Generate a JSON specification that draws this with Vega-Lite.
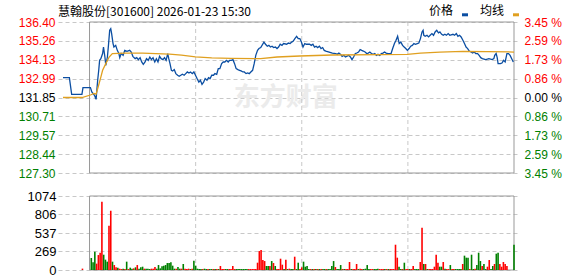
{
"$schema": "https://vega.github.io/schema/vega-lite/v6.json",
"width": 461, "height": 248,
"autosize": "none",
"padding": {"left": 58, "top": 22, "right": 59, "bottom": 6},
"background": "white",
"config": {"view": {"stroke": null}, "axis": {"domain": false, "ticks": false, "labelFont": "Liberation Sans", "labelFontSize": 12, "gridColor": "#c8c8c8", "gridDash": [4, 3], "gridWidth": 1}},
"title": {"text": "慧翰股份[301600] 2026-01-23 15:30", "anchor": "start", "frame": "group", "font": "Noto Sans CJK SC", "fontSize": 12, "fontWeight": "normal", "color": "#000000", "offset": 5, "dy": 19},
"layer": [
{
 "data": {"values": [{"t": 111, "p": 131.85, "w": "东方财富"}]},
 "mark": {"type": "text", "font": "Noto Sans CJK SC", "fontSize": 26, "fontWeight": "bold", "color": "#ebebeb", "align": "center", "baseline": "middle"},
 "encoding": {
  "x": {"field": "t", "type": "quantitative", "scale": {"domain": [-15, 240]}, "axis": null},
  "y": {"field": "p", "type": "quantitative", "scale": {"domain": [127.3, 136.4], "range": [151, 0]}, "axis": null},
  "text": {"field": "w"}
 }
},
{
 "data": {"values": [{"t": 60}, {"t": 120}, {"t": 180}]},
 "mark": {"type": "rule", "color": "#c8c8c8", "strokeDash": [4, 3], "strokeWidth": 1},
 "encoding": {
  "x": {"field": "t", "type": "quantitative", "scale": {"domain": [-15, 240]}, "axis": null},
  "y": {"datum": 127.3, "type": "quantitative", "scale": {"domain": [127.3, 136.4], "range": [151, 0]}, "axis": null},
  "y2": {"datum": 136.4}
 }
},
{
 "data": {"values": [{"t": 60}, {"t": 120}, {"t": 180}]},
 "mark": {"type": "rule", "color": "#c8c8c8", "strokeDash": [4, 3], "strokeWidth": 1},
 "encoding": {
  "x": {"field": "t", "type": "quantitative", "scale": {"domain": [-15, 240]}, "axis": null},
  "y": {"datum": 0, "type": "quantitative", "scale": {"domain": [0, 1074], "range": [248, 174]}, "axis": null},
  "y2": {"datum": 1074}
 }
},
{
 "data": {"values": [{"a": 0, "b": 240, "lo": 127.3, "hi": 136.4}]},
 "mark": {"type": "rect", "fill": null, "stroke": "#999999", "strokeWidth": 1},
 "encoding": {
  "x": {"field": "a", "type": "quantitative", "scale": {"domain": [-15, 240]}, "axis": null},
  "x2": {"field": "b"},
  "y": {"field": "lo", "type": "quantitative", "scale": {"domain": [127.3, 136.4], "range": [151, 0]},
   "axis": {"orient": "right", "title": null, "grid": false, "values": [127.3, 128.44, 129.57, 130.71, 131.85, 132.99, 134.13, 135.26, 136.4], "labelExpr": "format(abs(datum.value - 131.85) / 131.85 * 100, '.2f') + ' %'", "labelPadding": 5, "labelFontSize": 12,
    "labelColor": {"condition": [{"test": "datum.value > 131.9", "value": "#ff0000"}, {"test": "datum.value < 131.8", "value": "#008000"}], "value": "#000000"}}},
  "y2": {"field": "hi"}
 }
},
{
 "data": {"values": [{"a": 0, "b": 240, "lo": 0, "hi": 1074}]},
 "mark": {"type": "rect", "fill": null, "stroke": "#999999", "strokeWidth": 1},
 "encoding": {
  "x": {"field": "a", "type": "quantitative", "scale": {"domain": [-15, 240]}, "axis": null},
  "x2": {"field": "b"},
  "y": {"field": "lo", "type": "quantitative", "scale": {"domain": [0, 1074], "range": [248, 174]},
   "axis": {"orient": "left", "title": null, "grid": true, "values": [0, 269, 537, 806, 1074], "format": "d", "labelPadding": 2, "labelFontSize": 13, "labelColor": "#000000"}},
  "y2": {"field": "hi"}
 }
},
{
 "data": {"values": [
{"t":-4,"v":20,"c":"u"},{"t":1,"v":174,"c":"d"},{"t":2,"v":111,"c":"d"},{"t":3,"v":266,"c":"d"},{"t":4,"v":92,"c":"u"},{"t":5,"v":217,"c":"u"},{"t":6,"v":251,"c":"u"},{"t":7,"v":990,"c":"u"},{"t":8,"v":222,"c":"d"},{"t":9,"v":150,"c":"d"},{"t":10,"v":121,"c":"d"},{"t":11,"v":642,"c":"u"},{"t":12,"v":860,"c":"u"},{"t":13,"v":121,"c":"d"},{"t":14,"v":72,"c":"u"},{"t":15,"v":39,"c":"u"},{"t":16,"v":34,"c":"d"},{"t":17,"v":19,"c":"u"},{"t":18,"v":14,"c":"u"},{"t":19,"v":19,"c":"d"},{"t":20,"v":14,"c":"u"},{"t":21,"v":121,"c":"d"},{"t":22,"v":14,"c":"u"},{"t":23,"v":34,"c":"d"},{"t":24,"v":19,"c":"d"},{"t":25,"v":24,"c":"u"},{"t":26,"v":39,"c":"d"},{"t":27,"v":72,"c":"u"},{"t":28,"v":19,"c":"d"},{"t":29,"v":39,"c":"d"},{"t":30,"v":48,"c":"d"},{"t":31,"v":19,"c":"u"},{"t":32,"v":19,"c":"d"},{"t":33,"v":19,"c":"d"},{"t":34,"v":14,"c":"d"},{"t":35,"v":19,"c":"u"},{"t":36,"v":19,"c":"u"},{"t":37,"v":43,"c":"u"},{"t":38,"v":19,"c":"d"},{"t":39,"v":72,"c":"d"},{"t":40,"v":24,"c":"d"},{"t":41,"v":53,"c":"d"},{"t":42,"v":63,"c":"d"},{"t":43,"v":72,"c":"d"},{"t":44,"v":101,"c":"d"},{"t":45,"v":101,"c":"d"},{"t":46,"v":111,"c":"d"},{"t":47,"v":63,"c":"d"},{"t":48,"v":19,"c":"d"},{"t":49,"v":19,"c":"u"},{"t":50,"v":43,"c":"d"},{"t":51,"v":19,"c":"d"},{"t":52,"v":19,"c":"u"},{"t":53,"v":87,"c":"d"},{"t":54,"v":19,"c":"u"},{"t":55,"v":14,"c":"u"},{"t":56,"v":19,"c":"u"},{"t":57,"v":14,"c":"d"},{"t":58,"v":19,"c":"u"},{"t":59,"v":135,"c":"d"},{"t":60,"v":63,"c":"d"},
{"t":61,"v":19,"c":"d"},{"t":62,"v":14,"c":"d"},{"t":63,"v":14,"c":"d"},{"t":64,"v":14,"c":"u"},{"t":65,"v":19,"c":"d"},{"t":66,"v":14,"c":"d"},{"t":67,"v":14,"c":"u"},{"t":68,"v":14,"c":"d"},{"t":69,"v":14,"c":"d"},{"t":70,"v":14,"c":"u"},{"t":71,"v":14,"c":"d"},{"t":72,"v":14,"c":"u"},{"t":73,"v":14,"c":"d"},{"t":74,"v":58,"c":"u"},{"t":75,"v":14,"c":"u"},{"t":76,"v":14,"c":"u"},{"t":77,"v":14,"c":"d"},{"t":78,"v":14,"c":"d"},{"t":79,"v":14,"c":"u"},{"t":80,"v":14,"c":"u"},{"t":81,"v":58,"c":"u"},{"t":82,"v":14,"c":"u"},{"t":83,"v":14,"c":"d"},{"t":84,"v":14,"c":"d"},{"t":85,"v":14,"c":"d"},{"t":86,"v":14,"c":"d"},{"t":87,"v":14,"c":"d"},{"t":88,"v":14,"c":"d"},{"t":89,"v":14,"c":"d"},{"t":90,"v":14,"c":"u"},{"t":91,"v":14,"c":"u"},{"t":92,"v":14,"c":"u"},{"t":93,"v":14,"c":"u"},{"t":94,"v":14,"c":"u"},{"t":95,"v":106,"c":"u"},{"t":96,"v":275,"c":"u"},{"t":97,"v":290,"c":"u"},{"t":98,"v":145,"c":"u"},{"t":99,"v":130,"c":"u"},{"t":100,"v":58,"c":"d"},{"t":101,"v":58,"c":"d"},{"t":102,"v":58,"c":"u"},{"t":103,"v":130,"c":"d"},{"t":104,"v":101,"c":"u"},{"t":105,"v":58,"c":"d"},{"t":106,"v":14,"c":"u"},{"t":107,"v":14,"c":"u"},{"t":108,"v":164,"c":"u"},{"t":109,"v":77,"c":"u"},{"t":110,"v":14,"c":"d"},{"t":111,"v":150,"c":"u"},{"t":112,"v":14,"c":"d"},{"t":113,"v":19,"c":"u"},{"t":114,"v":14,"c":"d"},{"t":115,"v":14,"c":"d"},{"t":116,"v":193,"c":"u"},{"t":117,"v":14,"c":"d"},{"t":118,"v":106,"c":"d"},{"t":119,"v":14,"c":"u"},{"t":120,"v":39,"c":"u"},
{"t":121,"v":121,"c":"d"},{"t":122,"v":48,"c":"d"},{"t":123,"v":58,"c":"d"},{"t":124,"v":14,"c":"d"},{"t":125,"v":14,"c":"u"},{"t":126,"v":14,"c":"d"},{"t":127,"v":14,"c":"u"},{"t":128,"v":14,"c":"d"},{"t":129,"v":14,"c":"u"},{"t":130,"v":14,"c":"d"},{"t":131,"v":14,"c":"u"},{"t":132,"v":14,"c":"d"},{"t":133,"v":14,"c":"d"},{"t":134,"v":14,"c":"u"},{"t":135,"v":14,"c":"d"},{"t":136,"v":14,"c":"d"},{"t":137,"v":58,"c":"d"},{"t":138,"v":130,"c":"d"},{"t":139,"v":43,"c":"u"},{"t":140,"v":14,"c":"d"},{"t":141,"v":14,"c":"d"},{"t":142,"v":72,"c":"d"},{"t":143,"v":14,"c":"u"},{"t":144,"v":14,"c":"d"},{"t":145,"v":14,"c":"u"},{"t":146,"v":14,"c":"u"},{"t":147,"v":116,"c":"u"},{"t":148,"v":14,"c":"d"},{"t":149,"v":14,"c":"u"},{"t":150,"v":14,"c":"u"},{"t":151,"v":87,"c":"u"},{"t":152,"v":14,"c":"d"},{"t":153,"v":19,"c":"u"},{"t":154,"v":14,"c":"u"},{"t":155,"v":14,"c":"d"},{"t":156,"v":19,"c":"d"},{"t":157,"v":72,"c":"d"},{"t":158,"v":14,"c":"d"},{"t":159,"v":14,"c":"u"},{"t":160,"v":14,"c":"u"},{"t":161,"v":14,"c":"d"},{"t":162,"v":14,"c":"d"},{"t":163,"v":19,"c":"d"},{"t":164,"v":14,"c":"u"},{"t":165,"v":14,"c":"u"},{"t":166,"v":14,"c":"u"},{"t":167,"v":14,"c":"d"},{"t":168,"v":14,"c":"u"},{"t":169,"v":14,"c":"d"},{"t":170,"v":14,"c":"u"},{"t":171,"v":14,"c":"u"},{"t":172,"v":14,"c":"u"},{"t":173,"v":367,"c":"u"},{"t":174,"v":179,"c":"u"},{"t":175,"v":48,"c":"d"},{"t":176,"v":14,"c":"d"},{"t":177,"v":14,"c":"u"},{"t":178,"v":106,"c":"d"},{"t":179,"v":14,"c":"u"},{"t":180,"v":14,"c":"u"},
{"t":181,"v":14,"c":"d"},{"t":182,"v":14,"c":"u"},{"t":183,"v":58,"c":"u"},{"t":184,"v":14,"c":"d"},{"t":185,"v":14,"c":"d"},{"t":186,"v":14,"c":"d"},{"t":187,"v":116,"c":"u"},{"t":188,"v":613,"c":"u"},{"t":189,"v":87,"c":"d"},{"t":190,"v":87,"c":"u"},{"t":191,"v":14,"c":"d"},{"t":192,"v":14,"c":"u"},{"t":193,"v":14,"c":"u"},{"t":194,"v":14,"c":"u"},{"t":195,"v":48,"c":"u"},{"t":196,"v":222,"c":"u"},{"t":197,"v":106,"c":"u"},{"t":198,"v":48,"c":"d"},{"t":199,"v":48,"c":"d"},{"t":200,"v":116,"c":"u"},{"t":201,"v":19,"c":"d"},{"t":202,"v":14,"c":"u"},{"t":203,"v":14,"c":"u"},{"t":204,"v":72,"c":"d"},{"t":205,"v":14,"c":"u"},{"t":206,"v":14,"c":"u"},{"t":207,"v":14,"c":"d"},{"t":208,"v":14,"c":"d"},{"t":209,"v":14,"c":"d"},{"t":210,"v":14,"c":"d"},{"t":211,"v":87,"c":"u"},{"t":212,"v":208,"c":"d"},{"t":213,"v":179,"c":"d"},{"t":214,"v":179,"c":"d"},{"t":215,"v":14,"c":"u"},{"t":216,"v":222,"c":"d"},{"t":217,"v":14,"c":"d"},{"t":218,"v":19,"c":"u"},{"t":219,"v":72,"c":"d"},{"t":220,"v":251,"c":"d"},{"t":221,"v":130,"c":"d"},{"t":222,"v":58,"c":"u"},{"t":223,"v":87,"c":"d"},{"t":224,"v":14,"c":"d"},{"t":225,"v":48,"c":"u"},{"t":226,"v":145,"c":"u"},{"t":227,"v":14,"c":"d"},{"t":228,"v":58,"c":"d"},{"t":229,"v":87,"c":"u"},{"t":230,"v":237,"c":"d"},{"t":231,"v":251,"c":"d"},{"t":232,"v":87,"c":"u"},{"t":233,"v":48,"c":"u"},{"t":234,"v":116,"c":"u"},{"t":235,"v":87,"c":"u"},{"t":236,"v":58,"c":"u"},{"t":240,"v":367,"c":"d"}
 ]},
 "mark": {"type": "bar", "orient": "vertical", "width": 1.6},
 "encoding": {
  "x": {"field": "t", "type": "quantitative", "scale": {"domain": [-15, 240]}, "axis": null},
  "y": {"field": "v", "type": "quantitative", "scale": {"domain": [0, 1074], "range": [248, 174]}, "axis": null},
  "color": {"field": "c", "type": "nominal", "scale": {"domain": ["u", "d"], "range": ["#ff0000", "#008000"]}, "legend": null}
 }
},
{
 "data": {"values": [
{"t":-15,"p":133.05,"s":"价格"},{"t":-11.4,"p":133.05,"s":"价格"},{"t":-10.1,"p":132.04,"s":"价格"},{"t":-4.3,"p":132.04,"s":"价格"},{"t":-3.7,"p":132.45,"s":"价格"},{"t":0.5,"p":132.45,"s":"价格"},{"t":1.3,"p":132.18,"s":"价格"},{"t":2.8,"p":131.98,"s":"价格"},{"t":3.7,"p":131.74,"s":"价格"},{"t":4.6,"p":132.89,"s":"价格"},{"t":5.2,"p":133.49,"s":"价格"},{"t":5.7,"p":134.09,"s":"价格"},{"t":6.4,"p":134.19,"s":"价格"},{"t":7.4,"p":134.5,"s":"价格"},{"t":7.9,"p":134.89,"s":"价格"},{"t":8.7,"p":134.29,"s":"价格"},{"t":9.2,"p":133.79,"s":"价格"},{"t":10.1,"p":134.29,"s":"价格"},{"t":10.7,"p":134.99,"s":"价格"},{"t":11.4,"p":135.9,"s":"价格"},{"t":12.0,"p":136.0,"s":"价格"},{"t":12.5,"p":135.7,"s":"价格"},{"t":13.3,"p":135.1,"s":"价格"},{"t":13.8,"p":134.89,"s":"价格"},{"t":14.8,"p":134.99,"s":"价格"},{"t":15.7,"p":134.69,"s":"价格"},{"t":16.6,"p":134.5,"s":"价格"},{"t":17.1,"p":134.25,"s":"价格"},{"t":17.9,"p":134.5,"s":"价格"},{"t":19.0,"p":134.39,"s":"价格"},{"t":19.9,"p":134.69,"s":"价格"},{"t":21.2,"p":134.63,"s":"价格"},{"t":22.7,"p":134.69,"s":"价格"},{"t":23.6,"p":134.59,"s":"价格"},{"t":24.5,"p":134.33,"s":"价格"},{"t":25.8,"p":134.19,"s":"价格"},{"t":26.7,"p":134.25,"s":"价格"},{"t":27.6,"p":134.13,"s":"价格"},{"t":28.6,"p":134.25,"s":"价格"},{"t":29.5,"p":133.99,"s":"价格"},{"t":30.4,"p":133.85,"s":"价格"},{"t":31.4,"p":133.99,"s":"价格"},{"t":32.2,"p":134.19,"s":"价格"},{"t":33.2,"p":134.09,"s":"价格"},{"t":34.1,"p":134.29,"s":"价格"},{"t":35.0,"p":134.13,"s":"价格"},{"t":35.9,"p":134.25,"s":"价格"},{"t":36.9,"p":133.99,"s":"价格"},{"t":37.8,"p":134.19,"s":"价格"},{"t":38.7,"p":133.99,"s":"价格"},{"t":39.6,"p":134.33,"s":"价格"},{"t":40.5,"p":134.19,"s":"价格"},{"t":41.5,"p":134.13,"s":"价格"},{"t":42.4,"p":134.25,"s":"价格"},{"t":43.3,"p":134.09,"s":"价格"},{"t":44.2,"p":134.5,"s":"价格"},{"t":44.8,"p":134.19,"s":"价格"},{"t":45.5,"p":133.89,"s":"价格"},{"t":46.3,"p":133.49,"s":"价格"},{"t":47.0,"p":133.45,"s":"价格"},{"t":47.9,"p":133.53,"s":"价格"},{"t":48.8,"p":133.29,"s":"价格"},{"t":49.8,"p":133.19,"s":"价格"},{"t":50.7,"p":133.13,"s":"价格"},{"t":51.6,"p":133.19,"s":"价格"},{"t":52.5,"p":133.25,"s":"价格"},{"t":53.5,"p":133.19,"s":"价格"},{"t":54.4,"p":133.29,"s":"价格"},{"t":55.3,"p":133.39,"s":"价格"},{"t":56.2,"p":133.33,"s":"价格"},{"t":57.1,"p":133.39,"s":"价格"},{"t":58.1,"p":133.29,"s":"价格"},{"t":59.0,"p":133.39,"s":"价格"},{"t":59.9,"p":133.19,"s":"价格"},{"t":60.8,"p":132.99,"s":"价格"},{"t":61.8,"p":132.78,"s":"价格"},{"t":62.7,"p":132.89,"s":"价格"},{"t":63.6,"p":132.64,"s":"价格"},{"t":64.5,"p":132.78,"s":"价格"},{"t":65.4,"p":132.99,"s":"价格"},{"t":66.4,"p":132.89,"s":"价格"},{"t":67.3,"p":133.05,"s":"价格"},{"t":68.2,"p":132.99,"s":"价格"},{"t":69.1,"p":133.19,"s":"价格"},{"t":70.1,"p":133.19,"s":"价格"},{"t":70.9,"p":133.29,"s":"价格"},{"t":71.9,"p":133.25,"s":"价格"},{"t":72.8,"p":133.59,"s":"价格"},{"t":73.7,"p":133.59,"s":"价格"},{"t":74.7,"p":133.89,"s":"价格"},{"t":75.6,"p":133.99,"s":"价格"},{"t":76.5,"p":133.99,"s":"价格"},{"t":77.4,"p":134.09,"s":"价格"},{"t":78.4,"p":133.99,"s":"价格"},{"t":79.2,"p":134.09,"s":"价格"},{"t":80.2,"p":134.09,"s":"价格"},{"t":81.1,"p":134.13,"s":"价格"},{"t":82.0,"p":133.89,"s":"价格"},{"t":82.9,"p":133.59,"s":"价格"},{"t":83.9,"p":133.53,"s":"价格"},{"t":84.8,"p":133.49,"s":"价格"},{"t":85.7,"p":133.45,"s":"价格"},{"t":86.7,"p":133.39,"s":"价格"},{"t":87.5,"p":133.39,"s":"价格"},{"t":88.5,"p":133.29,"s":"价格"},{"t":89.4,"p":133.33,"s":"价格"},{"t":90.3,"p":133.29,"s":"价格"},{"t":91.2,"p":133.39,"s":"价格"},{"t":92.2,"p":133.49,"s":"价格"},{"t":93.1,"p":133.89,"s":"价格"},{"t":94.0,"p":134.39,"s":"价格"},{"t":95.0,"p":134.69,"s":"价格"},{"t":95.8,"p":134.8,"s":"价格"},{"t":96.8,"p":134.86,"s":"价格"},{"t":98.6,"p":135.19,"s":"价格"},{"t":99.5,"p":135.06,"s":"价格"},{"t":100.5,"p":134.94,"s":"价格"},{"t":101.4,"p":134.99,"s":"价格"},{"t":102.3,"p":134.89,"s":"价格"},{"t":103.2,"p":134.94,"s":"价格"},{"t":104.1,"p":134.86,"s":"价格"},{"t":105.1,"p":134.89,"s":"价格"},{"t":106.0,"p":134.8,"s":"价格"},{"t":106.9,"p":134.89,"s":"价格"},{"t":107.8,"p":135.06,"s":"价格"},{"t":108.8,"p":134.99,"s":"价格"},{"t":109.7,"p":135.1,"s":"价格"},{"t":111.5,"p":135.06,"s":"价格"},{"t":112.4,"p":135.13,"s":"价格"},{"t":113.4,"p":135.1,"s":"价格"},{"t":114.3,"p":135.19,"s":"价格"},{"t":115.2,"p":135.25,"s":"价格"},{"t":116.1,"p":135.4,"s":"价格"},{"t":117.1,"p":135.54,"s":"价格"},{"t":118.0,"p":135.4,"s":"价格"},{"t":118.9,"p":135.4,"s":"价格"},{"t":119.8,"p":135.19,"s":"价格"},{"t":120.7,"p":134.89,"s":"价格"},{"t":121.7,"p":135.1,"s":"价格"},{"t":122.6,"p":135.06,"s":"价格"},{"t":124.4,"p":135.06,"s":"价格"},{"t":125.4,"p":134.99,"s":"价格"},{"t":126.3,"p":135.06,"s":"价格"},{"t":127.2,"p":134.89,"s":"价格"},{"t":128.1,"p":134.94,"s":"价格"},{"t":129.0,"p":134.86,"s":"价格"},{"t":130.0,"p":134.94,"s":"价格"},{"t":130.9,"p":134.8,"s":"价格"},{"t":131.8,"p":134.86,"s":"价格"},{"t":132.7,"p":134.69,"s":"价格"},{"t":133.6,"p":134.65,"s":"价格"},{"t":135.5,"p":134.59,"s":"价格"},{"t":137.3,"p":134.53,"s":"价格"},{"t":139.2,"p":134.5,"s":"价格"},{"t":140.1,"p":134.45,"s":"价格"},{"t":141.0,"p":134.53,"s":"价格"},{"t":142.0,"p":134.45,"s":"价格"},{"t":142.8,"p":134.33,"s":"价格"},{"t":143.8,"p":134.39,"s":"价格"},{"t":144.7,"p":134.29,"s":"价格"},{"t":146.5,"p":134.39,"s":"价格"},{"t":147.5,"p":134.29,"s":"价格"},{"t":148.4,"p":134.13,"s":"价格"},{"t":149.3,"p":134.29,"s":"价格"},{"t":150.3,"p":134.5,"s":"价格"},{"t":151.1,"p":134.53,"s":"价格"},{"t":152.1,"p":134.59,"s":"价格"},{"t":153.0,"p":134.74,"s":"价格"},{"t":153.9,"p":134.69,"s":"价格"},{"t":154.8,"p":134.65,"s":"价格"},{"t":155.8,"p":134.59,"s":"价格"},{"t":156.7,"p":134.5,"s":"价格"},{"t":157.6,"p":134.53,"s":"价格"},{"t":158.5,"p":134.59,"s":"价格"},{"t":159.4,"p":134.5,"s":"价格"},{"t":160.4,"p":134.45,"s":"价格"},{"t":161.3,"p":134.5,"s":"价格"},{"t":162.2,"p":134.39,"s":"价格"},{"t":163.1,"p":134.45,"s":"价格"},{"t":164.1,"p":134.39,"s":"价格"},{"t":165.0,"p":134.5,"s":"价格"},{"t":165.9,"p":134.53,"s":"价格"},{"t":166.8,"p":134.59,"s":"价格"},{"t":167.7,"p":134.53,"s":"价格"},{"t":168.7,"p":134.5,"s":"价格"},{"t":170.5,"p":134.5,"s":"价格"},{"t":171.4,"p":134.8,"s":"价格"},{"t":172.4,"p":135.1,"s":"价格"},{"t":173.3,"p":135.3,"s":"价格"},{"t":174.2,"p":135.54,"s":"价格"},{"t":175.1,"p":135.1,"s":"价格"},{"t":176.0,"p":135.19,"s":"价格"},{"t":177.0,"p":134.99,"s":"价格"},{"t":177.9,"p":134.89,"s":"价格"},{"t":178.8,"p":134.8,"s":"价格"},{"t":179.7,"p":134.69,"s":"价格"},{"t":180.7,"p":134.8,"s":"价格"},{"t":181.6,"p":134.94,"s":"价格"},{"t":182.5,"p":134.99,"s":"价格"},{"t":183.4,"p":135.1,"s":"价格"},{"t":184.3,"p":135.06,"s":"价格"},{"t":185.3,"p":135.1,"s":"价格"},{"t":186.2,"p":135.13,"s":"价格"},{"t":187.1,"p":135.4,"s":"价格"},{"t":188.0,"p":135.8,"s":"价格"},{"t":188.6,"p":135.9,"s":"价格"},{"t":189.0,"p":135.6,"s":"价格"},{"t":189.8,"p":135.54,"s":"价格"},{"t":190.8,"p":135.6,"s":"价格"},{"t":191.7,"p":135.5,"s":"价格"},{"t":192.6,"p":135.6,"s":"价格"},{"t":193.6,"p":135.7,"s":"价格"},{"t":194.5,"p":135.6,"s":"价格"},{"t":195.4,"p":135.8,"s":"价格"},{"t":196.3,"p":135.9,"s":"价格"},{"t":197.3,"p":135.74,"s":"价格"},{"t":198.1,"p":135.8,"s":"价格"},{"t":199.1,"p":135.66,"s":"价格"},{"t":200.0,"p":135.6,"s":"价格"},{"t":200.9,"p":135.66,"s":"价格"},{"t":201.8,"p":135.6,"s":"价格"},{"t":202.8,"p":135.7,"s":"价格"},{"t":203.7,"p":135.6,"s":"价格"},{"t":205.5,"p":135.66,"s":"价格"},{"t":206.4,"p":135.6,"s":"价格"},{"t":207.4,"p":135.7,"s":"价格"},{"t":208.3,"p":135.54,"s":"价格"},{"t":209.2,"p":135.6,"s":"价格"},{"t":210.1,"p":135.5,"s":"价格"},{"t":211.1,"p":135.3,"s":"价格"},{"t":212.0,"p":135.1,"s":"价格"},{"t":212.9,"p":134.89,"s":"价格"},{"t":213.8,"p":134.8,"s":"价格"},{"t":214.7,"p":134.65,"s":"价格"},{"t":215.7,"p":134.59,"s":"价格"},{"t":216.6,"p":134.53,"s":"价格"},{"t":217.5,"p":134.59,"s":"价格"},{"t":218.4,"p":134.5,"s":"价格"},{"t":219.4,"p":134.5,"s":"价格"},{"t":220.3,"p":134.39,"s":"价格"},{"t":221.2,"p":134.25,"s":"价格"},{"t":222.1,"p":134.19,"s":"价格"},{"t":224.0,"p":134.13,"s":"价格"},{"t":225.8,"p":134.19,"s":"价格"},{"t":227.7,"p":134.13,"s":"价格"},{"t":228.6,"p":134.19,"s":"价格"},{"t":229.1,"p":134.39,"s":"价格"},{"t":229.9,"p":134.5,"s":"价格"},{"t":230.5,"p":134.25,"s":"价格"},{"t":231.0,"p":133.89,"s":"价格"},{"t":232.3,"p":133.89,"s":"价格"},{"t":233.2,"p":133.93,"s":"价格"},{"t":234.1,"p":134.09,"s":"价格"},{"t":235.0,"p":133.99,"s":"价格"},{"t":236.0,"p":134.5,"s":"价格"},{"t":236.9,"p":134.5,"s":"价格"},{"t":237.8,"p":134.39,"s":"价格"},{"t":238.7,"p":134.19,"s":"价格"},{"t":239.6,"p":133.99,"s":"价格"},
{"t":-15,"p":131.85,"s":"均线"},{"t":-4.3,"p":131.85,"s":"均线"},{"t":0.5,"p":132.0,"s":"均线"},{"t":2.5,"p":132.1,"s":"均线"},{"t":3.7,"p":132.05,"s":"均线"},{"t":4.6,"p":132.38,"s":"均线"},{"t":6.4,"p":133.08,"s":"均线"},{"t":7.4,"p":133.49,"s":"均线"},{"t":9.2,"p":133.89,"s":"均线"},{"t":11.1,"p":134.29,"s":"均线"},{"t":12.9,"p":134.5,"s":"均线"},{"t":20,"p":134.52,"s":"均线"},{"t":30,"p":134.52,"s":"均线"},{"t":45.2,"p":134.47,"s":"均线"},{"t":52,"p":134.4,"s":"均线"},{"t":59.9,"p":134.3,"s":"均线"},{"t":69.1,"p":134.24,"s":"均线"},{"t":80,"p":134.21,"s":"均线"},{"t":96.8,"p":134.19,"s":"均线"},{"t":106,"p":134.29,"s":"均线"},{"t":118.9,"p":134.35,"s":"均线"},{"t":137.3,"p":134.41,"s":"均线"},{"t":165,"p":134.43,"s":"均线"},{"t":179.7,"p":134.45,"s":"均线"},{"t":187.1,"p":134.53,"s":"均线"},{"t":198.1,"p":134.59,"s":"均线"},{"t":211.1,"p":134.63,"s":"均线"},{"t":225,"p":134.62,"s":"均线"},{"t":240,"p":134.59,"s":"均线"}
 ]},
 "mark": {"type": "line", "strokeWidth": 1.3},
 "encoding": {
  "x": {"field": "t", "type": "quantitative", "scale": {"domain": [-15, 240]},
   "axis": {"orient": "bottom", "offset": -97, "title": null, "grid": false, "values": [-15, 0, 60, 120, 180, 240], "labelOverlap": false, "labelFlush": false, "labelPadding": 2, "labelColor": "#000000",
    "labelExpr": "datum.value == -15 ? '9:15' : datum.value == 0 ? '09:30' : datum.value == 60 ? '10:30' : datum.value == 120 ? '11:30/13:00' : datum.value == 180 ? '14:00' : '15:00'",
    "labelAlign": {"condition": [{"test": "datum.value <= 0", "value": "left"}, {"test": "datum.value >= 240", "value": "right"}], "value": "center"}}},
  "y": {"field": "p", "type": "quantitative", "scale": {"domain": [127.3, 136.4], "range": [151, 0]},
   "axis": {"orient": "left", "title": null, "grid": true, "values": [127.3, 128.44, 129.57, 130.71, 131.85, 132.99, 134.13, 135.26, 136.4], "format": ".2f", "labelPadding": 3,
    "labelColor": {"condition": [{"test": "datum.value > 131.9", "value": "#ff0000"}, {"test": "datum.value < 131.8", "value": "#008000"}], "value": "#000000"}}},
  "color": {"field": "s", "type": "nominal", "sort": ["价格", "均线"], "scale": {"domain": ["价格", "均线"], "range": ["#0b4ea2", "#e0a020"]},
   "legend": {"orient": "none", "legendX": 401, "legendY": -17, "direction": "horizontal", "title": null, "labelFont": "Noto Sans CJK SC", "labelFontSize": 12, "labelColor": "#000000", "symbolType": "M-1,1.2H1", "symbolSize": 36, "symbolStrokeWidth": 3, "labelAlign": "right", "labelOffset": -18, "columnPadding": 5}},
  "detail": {"field": "s"}
 }
}
],
"resolve": {"scale": {"y": "independent", "color": "independent"}, "axis": {"y": "independent"}}
}
